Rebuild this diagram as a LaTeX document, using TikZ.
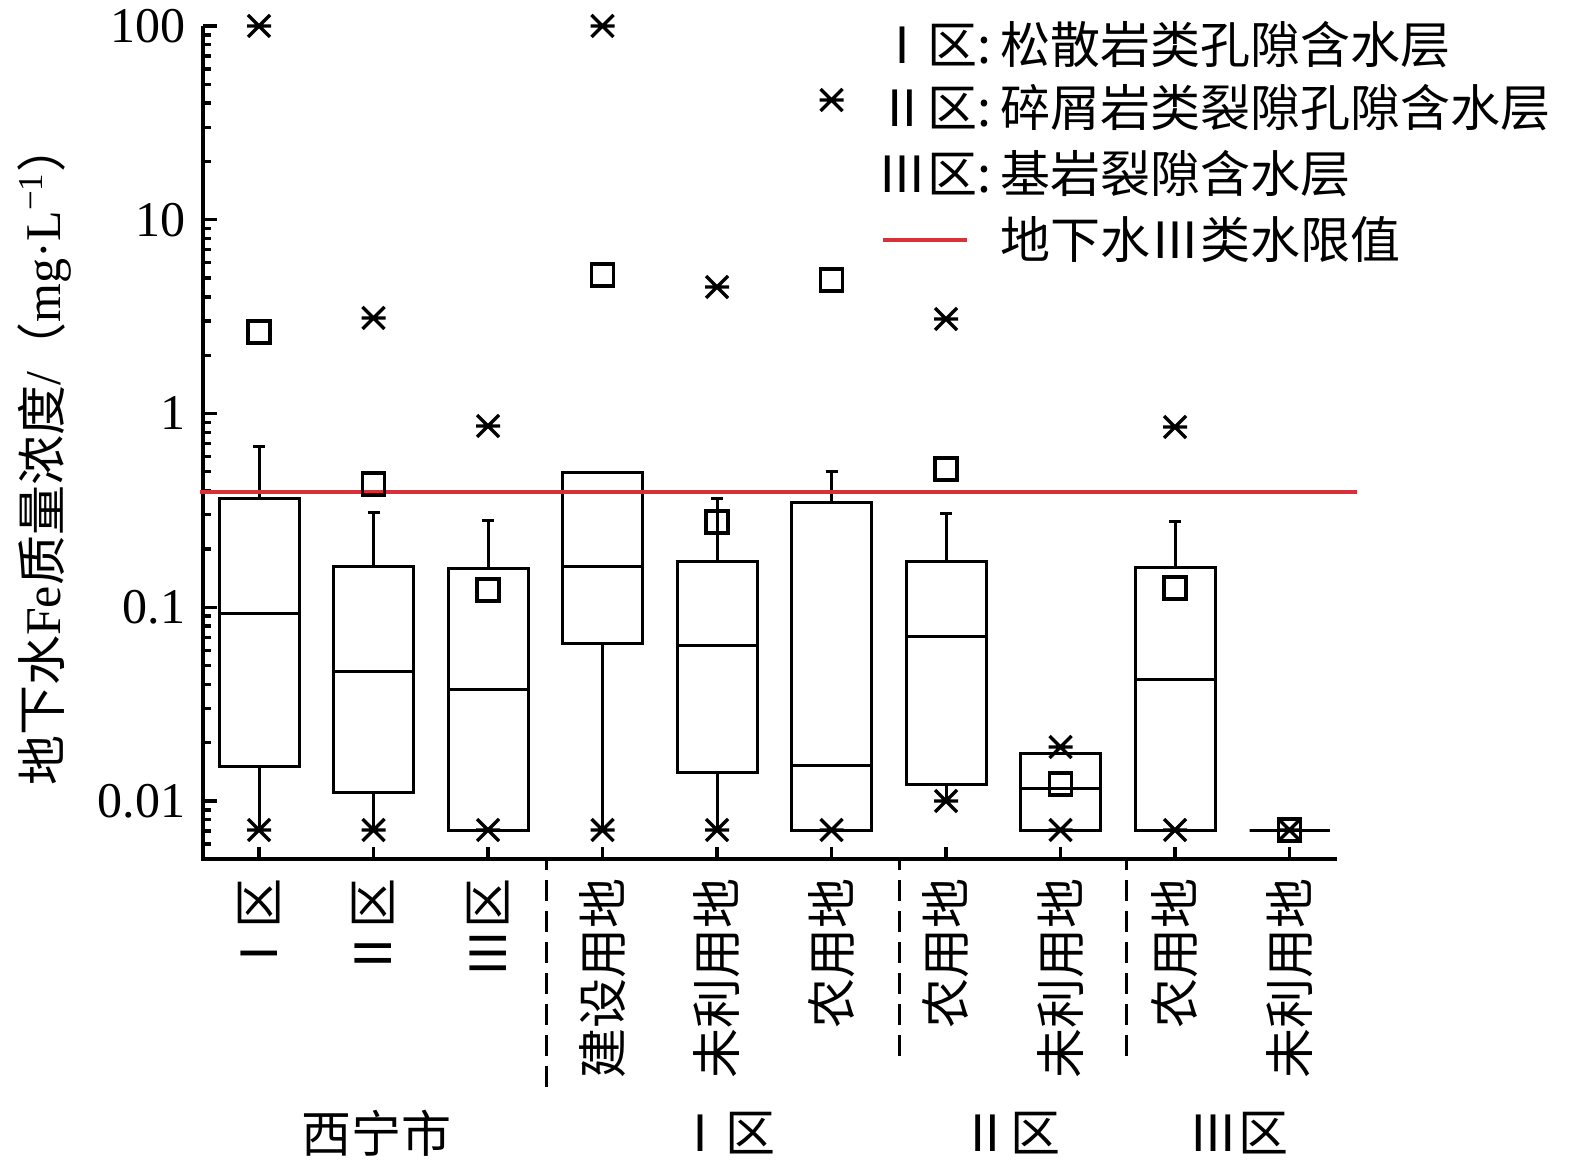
\documentclass[tikz,border=0pt]{standalone}
\usepackage{fontspec}
\setmainfont{Liberation Serif}
\newfontfamily\cjk{Noto Sans CJK SC}
\usepackage{tikz}
\usetikzlibrary{positioning}
\definecolor{limitred}{RGB}{215,48,57}

\begin{document}
\begin{tikzpicture}[x=0.3pt,y=-0.3pt,
		txt/.style={inner sep=0pt,font=\fontsize{15}{18}\selectfont},
		cjktxt/.style={txt,font=\fontsize{15}{18}\selectfont\cjk},
		cat/.style={cjktxt,rotate=90,anchor=east},
		axisline/.style={line width=1pt},
		boxline/.style={line width=0.9pt},
		mk/.style={line width=1pt},
		sqmark/.style={draw,mk,minimum size=6.6pt,inner sep=0pt},
		xmark/.pic={\draw[mk] (-11,-11) -- (11,11) (-11,11) -- (11,-11) (-12,0) -- (12,0);},
		limitline/.style={limitred,line width=1pt},
		grpsep/.style={line width=0.9pt,dash pattern=on 6.3pt off 3pt,dash phase=3pt}]
		\useasboundingbox (0,0) rectangle (1575,1169);
		\draw[axisline] (203,26) -- (203,859) -- (1337,859);
		\foreach \i/\v in {0/100,1/10,2/1,3/0.1,4/0.01} {
			\draw[axisline] (203,{26+193.75*\i}) -- ++(14,0);
			\node (ytk\i) [txt,anchor=east] at (186,{26+193.75*\i}) {\v};
		}
		\foreach \i in {0,...,3} \foreach \k in {2,...,9} \draw[axisline] (203,{26+193.75*(\i+1-log10(\k))}) -- ++(8,0);
		\foreach \k in {6,...,9} \draw[axisline] (203,{26+193.75*(5-log10(\k))}) -- ++(8,0);
		\foreach \n in {0,...,9} \draw[axisline] ({259+114.5*\n},859) -- ++(0,-12);
		\foreach \t [count=\n from 0] in {Ⅰ区,Ⅱ区,Ⅲ区,建设用地,未利用地,农用地,农用地,未利用地,农用地,未利用地}
			\node (cat\n) [cat] at ({259+114.5*\n},878) {\t};
		\foreach \x/\y in {546/1093,899/1062,1126/1064} \draw[grpsep] (\x,859) -- (\x,\y);
		\foreach \x/\t [count=\n] in {376/西宁市,725/Ⅰ区,1010/Ⅱ区,1238/Ⅲ区} \node (grp\n) [cjktxt] at (\x,1133) {\t};
		\node (ylab) [txt,rotate=90] at (44,454) {{\cjk 地下水}Fe{\cjk 质量浓度}/{\cjk （}mg·L\textsuperscript{−1}{\cjk ）}};
		% boxes: whisker top, box top, median, box bottom, whisker bottom
		\foreach \n/\wt/\qt/\md/\qb/\wb in {0/447/499/614/767/830,1/513/567/672/793/830,2/521/569/690/831/831,3/473/473/567/644/830,4/499/562/646/773/830,5/472/503/766/831/831,6/514/562/637/785/801,7/754/754/789/831/831,8/522/568/680/831/831,9/831/831/831/831/831} {
			\pgfmathsetmacro\x{259+114.5*\n}
			\draw[boxline] (\x-40,\qt) rectangle (\x+40,\qb) (\x-40,\md) -- (\x+40,\md) (\x,\qt) -- (\x,\wt) (\x-6,\wt) -- (\x+6,\wt) (\x,\qb) -- (\x,\wb);
		}
		\draw[limitline] (200,492) -- (1357,492);
		\foreach \n/\y in {0/332,1/484,2/590,3/275,4/522,5/280,6/469,7/784,8/588,9/830}
			\node (mean\n) [sqmark] at ({259+114.5*\n},\y) {};
		\foreach \n/\y in {0/26,0/830,1/318,1/830,2/426,2/830,3/26,3/830,4/287,4/830,5/100,5/830,6/319,6/801,7/747,7/830,8/427,8/830,9/830}
			\pic at ({259+114.5*\n},\y) {xmark};
		\node (key1) [cjktxt,anchor=east] at (992,45) {Ⅰ区:};
		\node (key2) [cjktxt,anchor=east] at (992,108) {Ⅱ区:};
		\node (key3) [cjktxt,anchor=east] at (992,174) {Ⅲ区:};
		\node (desc1) [cjktxt,right=2.4pt of key1] {松散岩类孔隙含水层};
		\node (desc2) [cjktxt,right=2.4pt of key2] {碎屑岩类裂隙孔隙含水层};
		\node (desc3) [cjktxt,right=2.4pt of key3] {基岩裂隙含水层};
		\coordinate (lg4a) at (883,240);
		\coordinate (lg4b) at (967,240);
		\draw[limitline] (lg4a) -- (lg4b);
		\node (desc4) [cjktxt,anchor=west] at (desc3.west |- lg4a) {地下水Ⅲ类水限值};
	\end{tikzpicture}
\end{document}
